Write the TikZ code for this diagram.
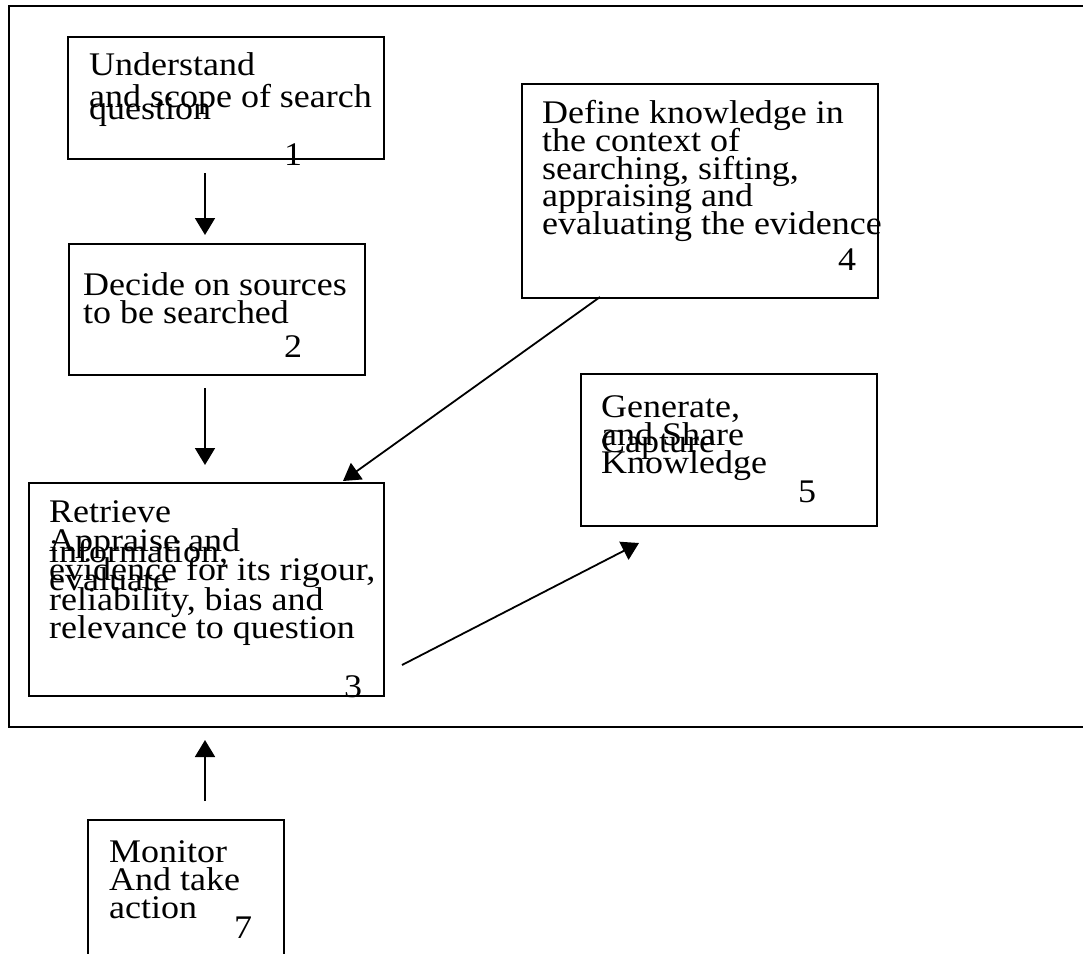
\documentclass[tikz,border=0pt]{standalone}
\usepackage{fontspec}
\setmainfont{Liberation Serif}[FakeStretch=1.09]
\usetikzlibrary{arrows.meta}
\begin{document}
\begin{tikzpicture}[x=1pt,y=-1pt,
  boxst/.style={draw, line width=2pt, inner sep=0pt, anchor=north west},
  txt/.style={anchor=base west, inner sep=0pt, font=\fontsize{33}{28}\selectfont},
  num/.style={anchor=base, inner sep=0pt, font=\fontsize{33}{28}\selectfont},
  arr/.style={line width=1.8pt, -{Triangle[length=17pt,width=20pt]}}]
\useasboundingbox (0,0) rectangle (1083,953);
% outer frame (right side beyond the page)
\node[boxst, minimum width=1100pt, minimum height=721pt] (frame) at (8,5) {};
% boxes
\node[boxst, minimum width=316pt, minimum height=122pt] (b1) at (67,36) {};
\node[boxst, minimum width=296pt, minimum height=131pt] (b2) at (68,243) {};
\node[boxst, minimum width=355pt, minimum height=213pt] (b3) at (28,482) {};
\node[boxst, minimum width=356pt, minimum height=214pt] (b4) at (521,83) {};
\node[boxst, minimum width=296pt, minimum height=152pt] (b5) at (580,373) {};
\node[boxst, minimum width=196pt, minimum height=200pt] (b7) at (87,819) {};
% box 1 text
\node[txt] (t1a) at (89,75) {Understand};
\node[txt] (t1b) at (89,107) {and scope of search};
\node[txt] (t1c) at (89,119) {question};
\node[num] (n1) at (293,165) {1};
% box 2 text
\node[txt] (t2a) at (83,295) {Decide on sources};
\node[txt] (t2b) at (83,323) {to be searched};
\node[num] (n2) at (293,357) {2};
% box 3 text
\node[txt] (t3a) at (49,522) {Retrieve};
\node[txt] (t3b) at (49,562) {information,};
\node[txt] (t3c) at (49,590) {evaluate};
\node[txt] (t3d) at (49,551) {Appraise and};
\node[txt] (t3e) at (49,580) {evidence for its rigour,};
\node[txt] (t3f) at (49,610) {reliability, bias and};
\node[txt] (t3g) at (49,638) {relevance to question};
\node[num] (n3) at (353,697) {3};
% box 4 text
\node[txt] (t4a) at (542,123) {Define knowledge in};
\node[txt] (t4b) at (542,151) {the context of};
\node[txt] (t4c) at (542,179) {searching, sifting,};
\node[txt] (t4d) at (542,206) {appraising and};
\node[txt] (t4e) at (542,234) {evaluating the evidence};
\node[num] (n4) at (847,270) {4};
% box 5 text
\node[txt] (t5a) at (601,417) {Generate,};
\node[txt] (t5b) at (601,445) {and Share};
\node[txt] (t5c) at (601,452) {Capture};
\node[txt] (t5d) at (601,473) {Knowledge};
\node[num] (n5) at (807,502) {5};
% box 7 text
\node[txt] (t7a) at (109,862) {Monitor};
\node[txt] (t7b) at (109,890) {And take};
\node[txt] (t7c) at (109,918) {action};
\node[num] (n7) at (243,938) {7};
% connectors
\coordinate (a1s) at (205,173);
\coordinate (a1e) at (205,235);
\coordinate (a2s) at (205,388);
\coordinate (a2e) at (205,465);
\coordinate (a4s) at (600,297);
\coordinate (a4e) at (343,481);
\coordinate (a3s) at (402,665);
\coordinate (a3e) at (639,543);
\coordinate (a7s) at (205,801);
\coordinate (a7e) at (205,740);
\draw[arr] (a1s) -- (a1e);
\draw[arr] (a2s) -- (a2e);
\draw[arr] (a4s) -- (a4e);
\draw[arr] (a3s) -- (a3e);
\draw[arr] (a7s) -- (a7e);
\end{tikzpicture}
\end{document}
